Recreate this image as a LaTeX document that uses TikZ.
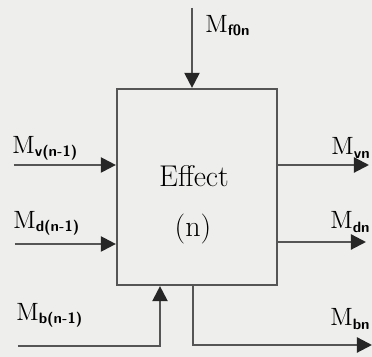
\documentclass[tikz,border=0pt]{standalone}
\usepackage{tikz}
\usetikzlibrary{arrows.meta,positioning}

\definecolor{paper}{RGB}{238,238,236}
\definecolor{ink}{RGB}{85,85,85}
\newcommand{\msub}[2]{#1\raisebox{-0.3ex}{\fontsize{7.5}{9}\selectfont\sffamily\bfseries #2}}

\begin{document}
\begin{tikzpicture}[x=0.5pt, y=-0.5pt, font=\fontsize{12.5}{15}\selectfont,
  flow/.style={draw=ink, line width=1.1pt, -{Triangle[length=7.5pt, width=7.5pt, color=black!85, fill=black!85]}},
  block/.style={draw=ink, line width=1.1pt, minimum width=80pt, minimum height=98pt, inner sep=0pt},
  lbl/.style={inner sep=0pt, anchor=west}]
\fill[paper] (0,0) rectangle (372,357);
\useasboundingbox (0,0) rectangle (372,357);
\node[block] (effect) at (197,187) {};
\node[font=\fontsize{15}{18}\selectfont] (effname) at (194,176) {Effect};
\node[font=\fontsize{15}{18}\selectfont] (effnum) at (193,229) {(n)};
% free ends
\coordinate (fin) at (192,8);
\coordinate (vin) at (14,165);
\coordinate (din) at (15,244);
\coordinate (bin) at (18,346);
\coordinate (bturn) at (160,346);
\coordinate (vout) at (369,165);
\coordinate (dout) at (366,242);
\coordinate (bdown) at (193,345);
\coordinate (bout) at (372,345);
% labels
\node[lbl] (mf) at (205,26) {\msub{M}{f0n}};
\node[lbl] (mvin) at (12,148) {\msub{M}{v(n-1)}};
\node[lbl] (mdin) at (13,223) {\msub{M}{d(n-1)}};
\node[lbl] (mbin) at (16,315) {\msub{M}{b(n-1)}};
\node[lbl] (mvout) at (331,148) {\msub{M}{vn}};
\node[lbl] (mdout) at (330,222) {\msub{M}{dn}};
\node[lbl] (mbout) at (330,319) {\msub{M}{bn}};
% connectors
\draw[flow] (fin) -- (fin |- effect.north);
\draw[flow] (vin) -- (vin -| effect.west);
\draw[flow] (din) -- (din -| effect.west);
\draw[flow] (bin) -- (bturn) -- (bturn |- effect.south);
\draw[flow] (vout -| effect.east) -- (vout);
\draw[flow] (dout -| effect.east) -- (dout);
\draw[flow] (bdown |- effect.south) -- (bdown) -- (bout);
\end{tikzpicture}
\end{document}
